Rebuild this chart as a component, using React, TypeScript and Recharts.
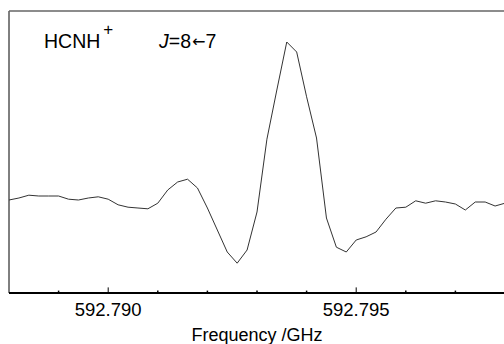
import React from 'react';
import { LineChart, Line, XAxis, YAxis, ReferenceLine } from 'recharts';

// Frequency (GHz) sampled every 0.0002 GHz from 592.788
const frequencies: number[] = [
  592.788, 592.7882, 592.7884, 592.7886, 592.7888, 592.789, 592.7892, 592.7894, 592.7896, 592.7898,
  592.79, 592.7902, 592.7904, 592.7906, 592.7908, 592.791, 592.7912, 592.7914, 592.7916, 592.7918,
  592.792, 592.7922, 592.7924, 592.7926, 592.7928, 592.793, 592.7932, 592.7934, 592.7936, 592.7938,
  592.794, 592.7942, 592.7944, 592.7946, 592.7948, 592.795, 592.7952, 592.7954, 592.7956, 592.7958,
  592.796, 592.7962, 592.7964, 592.7966, 592.7968, 592.797, 592.7972, 592.7974, 592.7976, 592.7978,
  592.798,
];

// Intensity (arbitrary units)
const intensity: number[] = [
  0.0, 0.05, 0.12, 0.1, 0.1, 0.1, 0.02, 0.0, 0.05, 0.08,
  0.02, -0.12, -0.18, -0.2, -0.22, -0.08, 0.25, 0.45, 0.52, 0.3,
  -0.2, -0.75, -1.3, -1.58, -1.25, -0.3, 1.52, 2.75, 3.95, 3.7,
  2.58, 1.55, -0.45, -1.18, -1.3, -1.0, -0.92, -0.8, -0.48, -0.2,
  -0.18, -0.02, -0.08, -0.02, -0.05, -0.1, -0.25, -0.05, -0.05, -0.15,
  -0.08,
];

const minorTicks: number[] = [
  592.789, 592.791, 592.792, 592.793, 592.794, 592.796, 592.797,
];
const majorTicks: number[] = [592.79, 592.795];

const X_DOMAIN: [number, number] = [592.788, 592.798];
const Y_DOMAIN: [number, number] = [-2.325, 4.725];

const data = frequencies.map((f, i) => ({ f, v: intensity[i] }));

const FONT = '"Liberation Sans", Arial, sans-serif';

export default function App() {
  const yMin = Y_DOMAIN[0];
  return (
    <div style={{ position: 'absolute', left: 0, top: 0, width: 504, height: 344, overflow: 'hidden', background: '#fff' }}>
      <LineChart
        width={506}
        height={344}
        data={data}
        margin={{ top: 11, right: 1, bottom: 0, left: 9 }}
      >
        <XAxis
          dataKey="f"
          type="number"
          domain={X_DOMAIN}
          ticks={majorTicks}
          interval={0}
          height={51}
          tickSize={0}
          tickMargin={10}
          tickLine={false}
          axisLine={{ stroke: '#000', strokeWidth: 2 }}
          tickFormatter={(v: number) => v.toFixed(3)}
          tick={{ fontSize: 18.5, fontFamily: FONT, fill: '#000' }}
        />
        <YAxis
          type="number"
          domain={Y_DOMAIN}
          width={0}
          hide
        />
        {/* left border */}
        <ReferenceLine x={X_DOMAIN[0]} stroke="#000" strokeWidth={1} />
        {/* top border */}
        <ReferenceLine y={Y_DOMAIN[1]} stroke="#666" strokeWidth={1.5} />
        {/* inward ticks */}
        {majorTicks.map((t) => (
          <ReferenceLine
            key={'M' + t}
            segment={[{ x: t, y: yMin }, { x: t, y: yMin + 0.14 }]}
            stroke="#000"
            strokeWidth={1}
          />
        ))}
        {minorTicks.map((t) => (
          <ReferenceLine
            key={'m' + t}
            segment={[{ x: t, y: yMin }, { x: t, y: yMin + 0.06 }]}
            stroke="#000"
            strokeWidth={1.5}
          />
        ))}
        <Line
          type="linear"
          dataKey="v"
          stroke="#333"
          strokeWidth={1}
          dot={false}
          isAnimationActive={false}
        />
        <text x={257} y={341} textAnchor="middle" fontSize={18} fontFamily={FONT} fill="#000">
          Frequency /GHz
        </text>
        <text x={44} y={48} fontSize={19.5} fontFamily={FONT} fill="#000">
          HCNH
          <tspan dx={3} dy={-13} fontSize={17}>+</tspan>
        </text>
        <text x={159} y={48} fontSize={19.5} fontFamily={FONT} fill="#000">
          <tspan fontStyle="italic">J</tspan>=8
          <tspan fontSize={16} dx={1} dy={-1} fontFamily='"DejaVu Sans", sans-serif'>←</tspan>
          <tspan dy={1}>7</tspan>
        </text>
      </LineChart>
    </div>
  );
}
